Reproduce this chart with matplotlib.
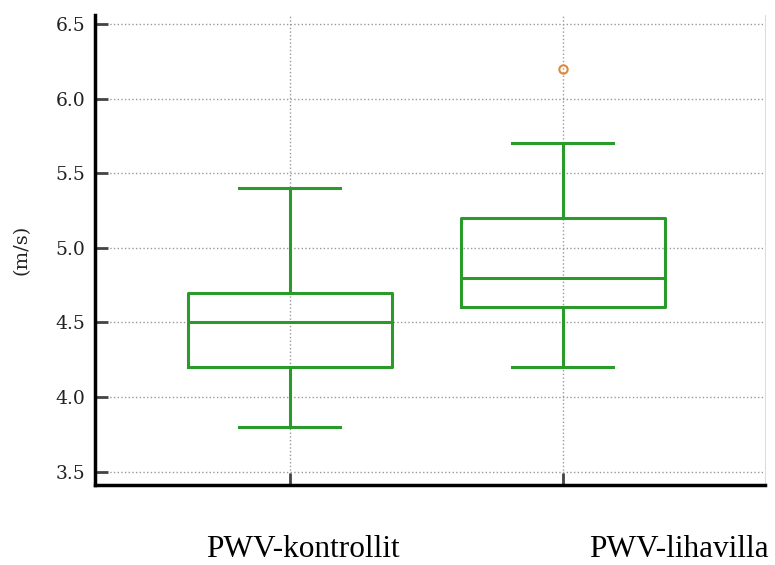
import matplotlib
matplotlib.use("Agg")
import matplotlib.pyplot as plt

categories = ["PWV-kontrollit", "PWV-lihavilla"]
whislo = [3.8, 4.2]
q1 = [4.2, 4.6]
med = [4.5, 4.8]
q3 = [4.7, 5.2]
whishi = [5.4, 5.7]
fliers = [[], [6.2]]
yticks = [3.5, 4.0, 4.5, 5.0, 5.5, 6.0, 6.5]

green = "#2a9a2a"
orange = "#e0883a"

fig = plt.figure(figsize=(7.75, 5.65), dpi=100)
ax = fig.add_axes([95/775, 1 - 485/565, 670/775, (485 - 15)/565])

stats = []
for i in range(len(categories)):
    stats.append(dict(whislo=whislo[i], q1=q1[i], med=med[i], q3=q3[i],
                      whishi=whishi[i], fliers=fliers[i], label=categories[i]))

ax.bxp(stats, positions=[1, 2], widths=0.75, capwidths=0.37,
       boxprops=dict(color=green, linewidth=2.2),
       whiskerprops=dict(color=green, linewidth=2.2),
       capprops=dict(color=green, linewidth=2.2),
       medianprops=dict(color=green, linewidth=2.2),
       flierprops=dict(marker="o", markerfacecolor="none", markeredgecolor=orange,
                       markersize=6, markeredgewidth=1.5),
       zorder=3)

ax.set_xlim(0.286, 2.74)
ax.set_ylim(3.41, 6.56)
ax.set_yticks(yticks)
ax.set_yticklabels([f"{v:.1f}" for v in yticks], fontfamily="DejaVu Serif", fontsize=13.5,
                   color="#222222")
ax.set_xticks([1, 2])
ax.set_xticklabels(["", ""])

ax.grid(True, linestyle=":", color="#999999", linewidth=1)
ax.set_axisbelow(True)
ax.tick_params(axis="y", direction="in", length=9, width=2, color="#444444", pad=7)
ax.tick_params(axis="x", direction="in", length=9, width=2, color="#444444")

ax.spines["top"].set_visible(False)
ax.spines["right"].set_color("#dddddd")
ax.spines["right"].set_linewidth(0.8)
ax.spines["left"].set_linewidth(2.5)
ax.spines["bottom"].set_linewidth(2.5)

ax.set_ylabel("(m/s)", fontfamily="DejaVu Serif", fontsize=14, labelpad=18, color="#222222")

fig.text(303/775, 1/565, categories[0], ha="center", va="bottom",
         fontfamily="Liberation Serif", fontsize=22.5)
fig.text(679/775, 1/565, categories[1], ha="center", va="bottom",
         fontfamily="Liberation Serif", fontsize=22.5)

fig.savefig("out.png", dpi=100)
